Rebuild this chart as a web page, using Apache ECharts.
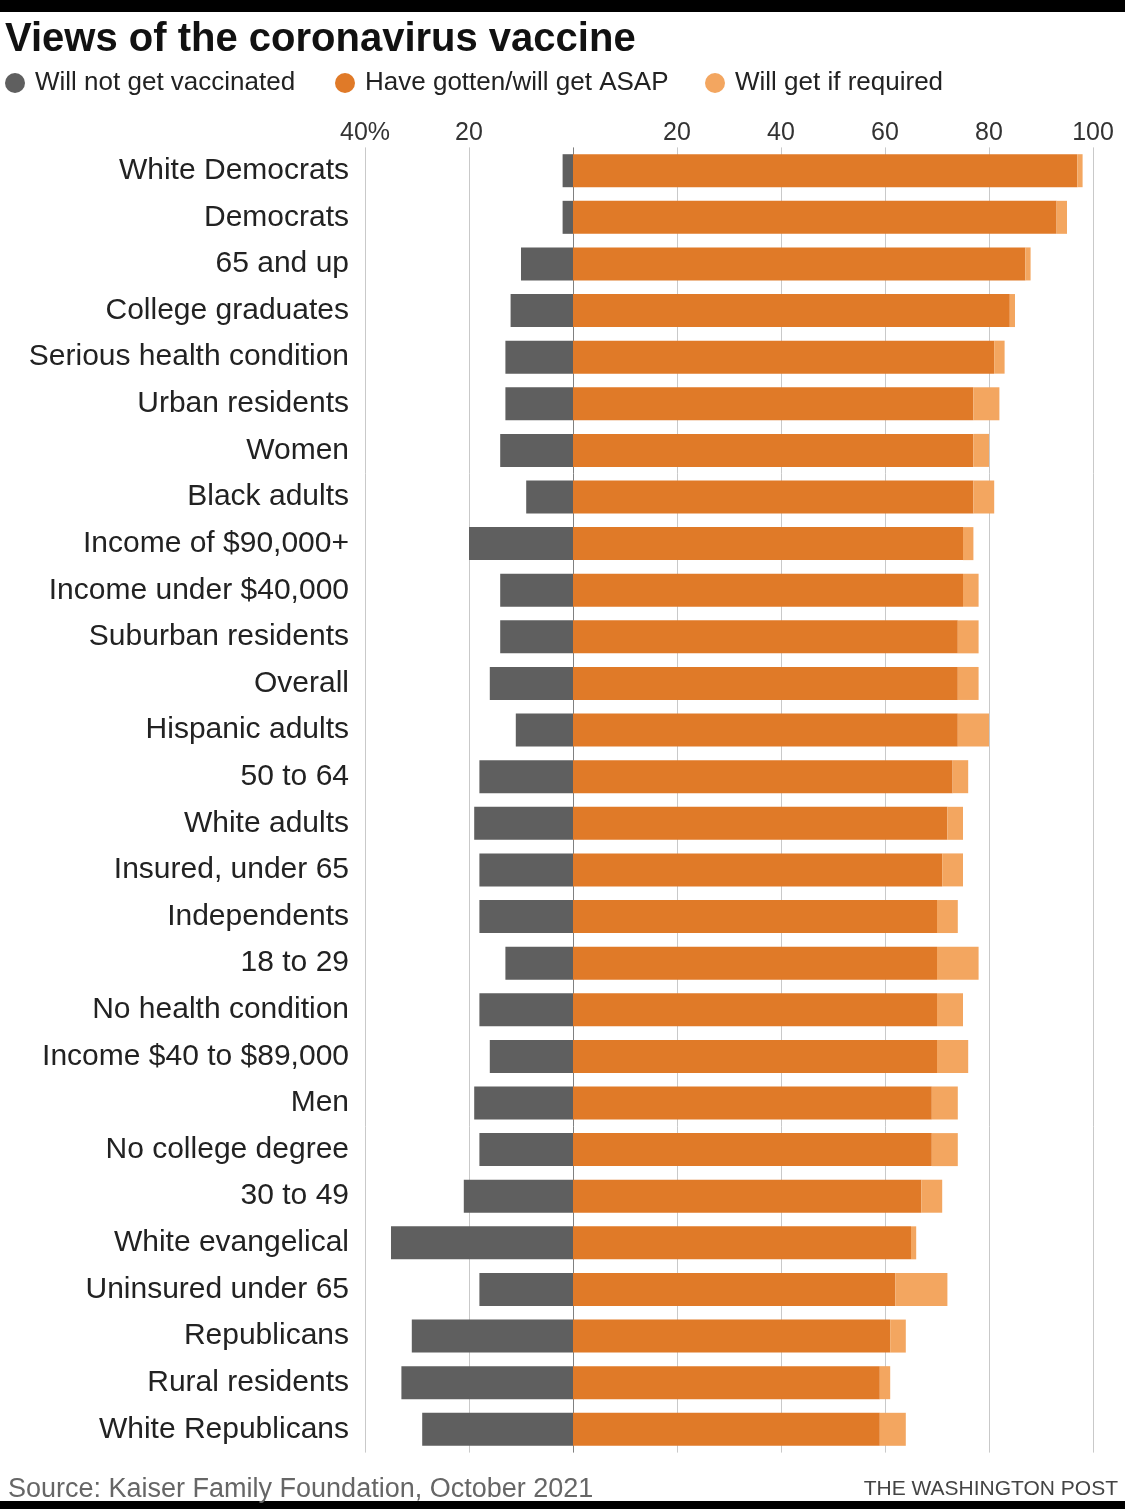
<!DOCTYPE html>
<html>
<head>
<meta charset="utf-8">
<script src="https://cdn.jsdelivr.net/npm/echarts@6/dist/echarts.min.js"></script>
<style>
html,body{margin:0;padding:0;background:#fff;}
#chart{width:1125px;height:1509px;}
</style>
</head>
<body>
<div id="chart"></div>
<script>
const categories = [
  "White Democrats","Democrats","65 and up","College graduates","Serious health condition",
  "Urban residents","Women","Black adults","Income of $90,000+","Income under $40,000",
  "Suburban residents","Overall","Hispanic adults","50 to 64","White adults",
  "Insured, under 65","Independents","18 to 29","No health condition","Income $40 to $89,000",
  "Men","No college degree","30 to 49","White evangelical","Uninsured under 65",
  "Republicans","Rural residents","White Republicans"
];
const willNot = [2,2,10,12,13,13,14,9,20,14,14,16,11,18,19,18,18,13,18,16,19,18,21,35,18,31,33,29];
const asap = [97,93,87,84,81,77,77,77,75,75,74,74,74,73,72,71,70,70,70,70,69,69,67,65,62,61,59,59];
const ifRequired = [1,2,1,1,2,5,3,4,2,3,4,4,6,3,3,4,4,8,5,6,5,5,4,1,10,3,2,5];
const xTicks = {min:-40, max:100, interval:20};
const seriesNames = ["Will not get vaccinated","Have gotten/will get ASAP","Will get if required"];
const colors = ["#5f5f5f","#e07a28","#f3a660"];

const chart = echarts.init(document.getElementById('chart'), null, {renderer:'canvas'});
const labelFont = "'Liberation Sans', Arial, sans-serif";
const legendCommon = {
  icon:'circle', itemWidth:20, itemHeight:20, top:70, padding:0, orient:'horizontal',
  textStyle:{fontFamily:labelFont, fontSize:26, color:'#222', padding:[0,0,0,5]}
};
const option = {
  animation:false,
  backgroundColor:'#fff',
  color: colors,
  title:{
    text:'Views of the coronavirus vaccine', left:5, top:20, padding:0,
    textStyle:{fontFamily:labelFont, fontWeight:'bold', fontSize:40, color:'#111'}
  },
  legend:[
    Object.assign({left:5, data:[seriesNames[0]]}, legendCommon),
    Object.assign({left:335, data:[seriesNames[1]]}, legendCommon),
    Object.assign({left:705, data:[seriesNames[2]]}, legendCommon)
  ],
  grid:{left:365, right:32, top:147.4, bottom:56.4, containLabel:false},
  xAxis:{
    type:'value', position:'top', min:xTicks.min, max:xTicks.max, interval:xTicks.interval,
    axisLine:{show:false}, axisTick:{show:false},
    axisLabel:{
      margin:2, fontFamily:labelFont, fontSize:25, color:'#333',
      formatter:function(v){ if(v===0) return ''; if(v===xTicks.min) return Math.abs(v)+'%'; return String(Math.abs(v)); }
    },
    splitLine:{show:true, lineStyle:{width:1, color:['#c9c9c9','#c9c9c9','#808080','#c9c9c9','#c9c9c9','#c9c9c9','#c9c9c9','#c9c9c9']}}
  },
  yAxis:{
    type:'category', data:categories, inverse:true,
    axisLine:{show:false}, axisTick:{show:false},
    axisLabel:{margin:16, fontFamily:labelFont, fontSize:30, color:'#222'}
  },
  series:[
    {name:seriesNames[0], type:'bar', stack:'total', barWidth:33, data:willNot.map(v=>-v), itemStyle:{color:colors[0]}},
    {name:seriesNames[1], type:'bar', stack:'total', barWidth:33, data:asap, itemStyle:{color:colors[1]}},
    {name:seriesNames[2], type:'bar', stack:'total', barWidth:33, data:ifRequired, itemStyle:{color:colors[2]}}
  ],
  graphic:[
    {type:'rect', left:0, top:0, shape:{width:1125, height:12}, style:{fill:'#000'}},
    {type:'rect', left:0, top:1501, shape:{width:1125, height:8}, style:{fill:'#000'}},
    {type:'text', left:8, top:1476, style:{text:'Source: Kaiser Family Foundation, October 2021', font:"27px 'Liberation Sans', Arial, sans-serif", fill:'#666'}},
    {type:'text', right:7, top:1479, style:{text:'THE WASHINGTON POST', font:"21px 'Liberation Sans', Arial, sans-serif", fill:'#444'}}
  ]
};
chart.setOption(option);
</script>
</body>
</html>
